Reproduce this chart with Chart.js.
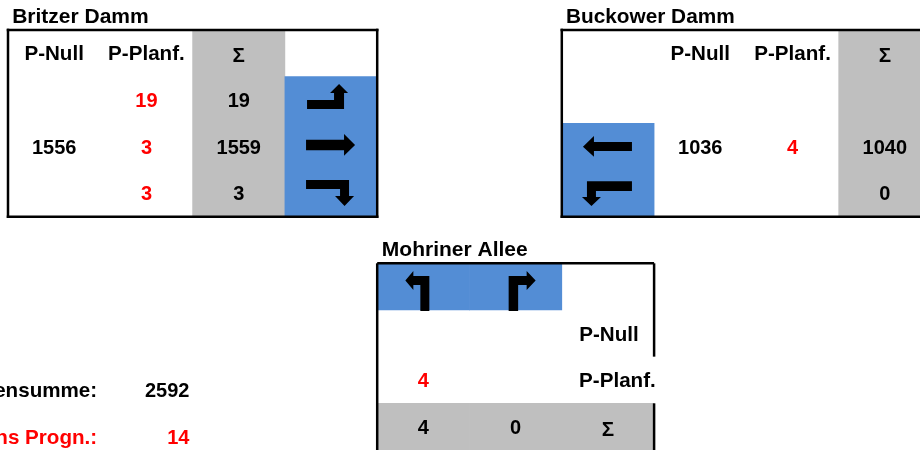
<!DOCTYPE html>
<html>
<head>
<meta charset="utf-8">
<style>
html, body { margin: 0; padding: 0; background: #fff; overflow: hidden; width: 920px; height: 450px; }
canvas { display: block; }
</style>
<script src="https://cdn.jsdelivr.net/npm/chart.js@4"></script>
</head>
<body>
<canvas id="knotenChart" width="931" height="450"></canvas>
<script>
// grid columns of the sheet
var columns = ['c0', 'c1', 'c2', 'c3', 'c4', 'c5', 'c6', 'c7', 'c8', 'c9'];

// floating [fromRow, toRow] per column
var blueCells = [null, null, null, [1, 4], [5, 6], [5, 6], [2, 4], null, null, null];
var greyCells = [null, null, [0, 4], null, [8, 9], [8, 9], [8, 9], null, null, [0, 4]];

var headNull = 'P-Null';
var headPlan = 'P-Planf.';
var headSum = 'Σ';

var titles = ['Britzer Damm', 'Buckower Damm', 'Mohriner Allee'];

var britzerNull = ['', 1556, ''];
var britzerPlan = [19, 3, 3];
var britzerSum = [19, 1559, 3];

var buckowerNull = [1036, ''];
var buckowerPlan = [4, ''];
var buckowerSum = [1040, 0];

var mohrinerPlan = [4, ''];
var mohrinerSum = [4, 0];

var totalLabel = 'ensumme:';
var totalValue = 2592;
var prognLabel = 'ns Progn.:';
var prognValue = 14;

var BLACK = '#000000';
var RED = '#ff0000';
var BLUE = '#538dd5';
var GREY = '#bfbfbf';

// arrow outlines, relative to the middle of their cell
var arrows = {
    rightUp: [[-24, 0], [3, 0], [3, -7], [-1, -7], [8, -16], [17, -7], [13, -7], [13, 9], [-24, 9]],
    right: [[-25, -7], [13, -7], [13, -12.7], [24, -1.7], [13, 9], [13, 3.5], [-25, 3.5]],
    rightDown: [[-25, -13.4], [18, -13.4], [18, 2.6], [23, 2.6], [13.5, 12.6], [4, 2.6], [9, 2.6], [9, -4.4], [-25, -4.4]],
    left: [[-25, 0], [-14, -10.7], [-14, -4.7], [24, -4.7], [24, 4.3], [-14, 4.3], [-14, 10]],
    leftDown: [[24, -12], [-21, -12], [-21, 3.6], [-26, 3.6], [-16.5, 12.6], [-7, 3.6], [-12, 3.6], [-12, -2.4], [24, -2.4]],
    turnLeft: [[6, 24.3], [-3, 24.3], [-3, -1.7], [-10, -1.7], [-10, 3.3], [-18, -6.2], [-10, -15.7], [-10, -10.7], [6, -10.7]],
    turnRight: [[-7, 24.3], [-7, -10.7], [11, -10.7], [11, -15.7], [20, -6.2], [11, 3.3], [11, -1.7], [2.5, -1.7], [2.5, 24.3]]
};

var tablePlugin = {
    id: 'tablePlugin',
    afterDatasetsDraw: function (chart) {
        var ctx = chart.ctx;
        var x = chart.scales.x;
        var y = chart.scales.y;
        // column c spans c-0.5 .. c+0.5 on the category scale, row r spans r .. r+1
        function colMid(c) { return x.getPixelForValue(c); }
        function colEdge(c) { return x.getPixelForValue(c - 0.5); }
        function rowMid(r) { return y.getPixelForValue(r + 0.5); }
        function rowEdge(r) { return y.getPixelForValue(r); }

        function put(text, c, r, color, dx, dy, align, size) {
            if (text === '') return;
            // numbers run a bit narrower than the labels in the sheet
            var px = size || (typeof text === 'number' ? 20 : 20.6);
            ctx.font = 'bold ' + px + 'px "Liberation Sans", Arial, sans-serif';
            ctx.fillStyle = color || BLACK;
            ctx.textAlign = align || 'center';
            ctx.textBaseline = 'middle';
            ctx.fillText(String(text), colMid(c) + (dx || 0), rowMid(r) + 1.5 + (dy || 0));
        }

        function line(c0, r0, c1, r1) {
            ctx.beginPath();
            ctx.moveTo(colEdge(c0), rowEdge(r0));
            ctx.lineTo(colEdge(c1), rowEdge(r1));
            ctx.stroke();
        }

        function arrow(name, c, r) {
            var pts = arrows[name];
            ctx.fillStyle = BLACK;
            ctx.beginPath();
            pts.forEach(function (p, i) {
                if (i === 0) ctx.moveTo(colMid(c) + p[0], rowMid(r) + p[1]);
                else ctx.lineTo(colMid(c) + p[0], rowMid(r) + p[1]);
            });
            ctx.closePath();
            ctx.fill();
        }

        ctx.save();

        // frames
        ctx.strokeStyle = BLACK;
        ctx.lineWidth = 2.5;
        ctx.lineCap = 'square';
        line(0, 0, 4, 0); line(0, 4, 4, 4); line(0, 0, 0, 4); line(4, 0, 4, 4);
        line(6, 0, 10, 0); line(6, 4, 10, 4); line(6, 0, 6, 4);
        ctx.lineCap = 'butt';
        line(4, 5, 7, 5); line(4, 5, 4, 9);
        line(7, 5, 7, 7); line(7, 8, 7, 9);

        // titles sit in the row above each table
        put(titles[0], 0, -1, BLACK, -42, 9.5, 'left', 21);
        put(titles[1], 6, -1, BLACK, -42, 9.5, 'left', 20.8);
        put(titles[2], 4, 4, BLACK, -41.5, 9, 'left', 21);

        // Britzer Damm
        put(headNull, 0, 0); put(headPlan, 1, 0); put(headSum, 2, 0, BLACK, 0, 2);
        britzerNull.forEach(function (v, i) { put(v, 0, i + 1); });
        britzerPlan.forEach(function (v, i) { put(v, 1, i + 1, RED); });
        britzerSum.forEach(function (v, i) { put(v, 2, i + 1); });
        arrow('rightUp', 3, 1); arrow('right', 3, 2); arrow('rightDown', 3, 3);

        // Buckower Damm
        put(headNull, 7, 0); put(headPlan, 8, 0); put(headSum, 9, 0, BLACK, 0, 2);
        buckowerNull.forEach(function (v, i) { put(v, 7, i + 2); });
        buckowerPlan.forEach(function (v, i) { put(v, 8, i + 2, RED); });
        buckowerSum.forEach(function (v, i) { put(v, 9, i + 2); });
        arrow('left', 6, 2); arrow('leftDown', 6, 3);

        // Mohriner Allee
        put(headNull, 6, 6, BLACK, 1);
        put(headPlan, 6, 7, BLACK, 9.5);
        put(headSum, 6, 8, BLACK, 0, 2);
        mohrinerPlan.forEach(function (v, i) { put(v, 4 + i, 7, RED); });
        mohrinerSum.forEach(function (v, i) { put(v, 4 + i, 8); });
        arrow('turnLeft', 4, 5); arrow('turnRight', 5, 5);

        // totals, bottom aligned in their cells
        put(totalLabel, 0, 7, BLACK, 43, 10, 'right');
        put(totalValue, 1, 7, BLACK, 43, 10, 'right');
        put(prognLabel, 0, 8, RED, 43, 10, 'right');
        put(prognValue, 1, 8, RED, 43, 10, 'right');

        ctx.restore();
    }
};

var ctx = document.getElementById('knotenChart').getContext('2d');

var myChart = new Chart(ctx, {
    type: 'bar',
    data: {
        labels: columns,
        datasets: [
            { label: 'Spuren', data: blueCells, backgroundColor: BLUE, borderWidth: 0 },
            { label: 'Summe', data: greyCells, backgroundColor: GREY, borderWidth: 0 }
        ]
    },
    options: {
        responsive: false,
        animation: false,
        layout: { padding: { left: 8 } },
        datasets: { bar: { grouped: false, barPercentage: 1, categoryPercentage: 1 } },
        plugins: {
            legend: { display: false },
            tooltip: { enabled: false }
        },
        scales: {
            x: { type: 'category', display: false },
            y: { type: 'linear', display: false, reverse: true, min: -0.642, max: 9 }
        }
    },
    plugins: [tablePlugin]
});
</script>
</body>
</html>
